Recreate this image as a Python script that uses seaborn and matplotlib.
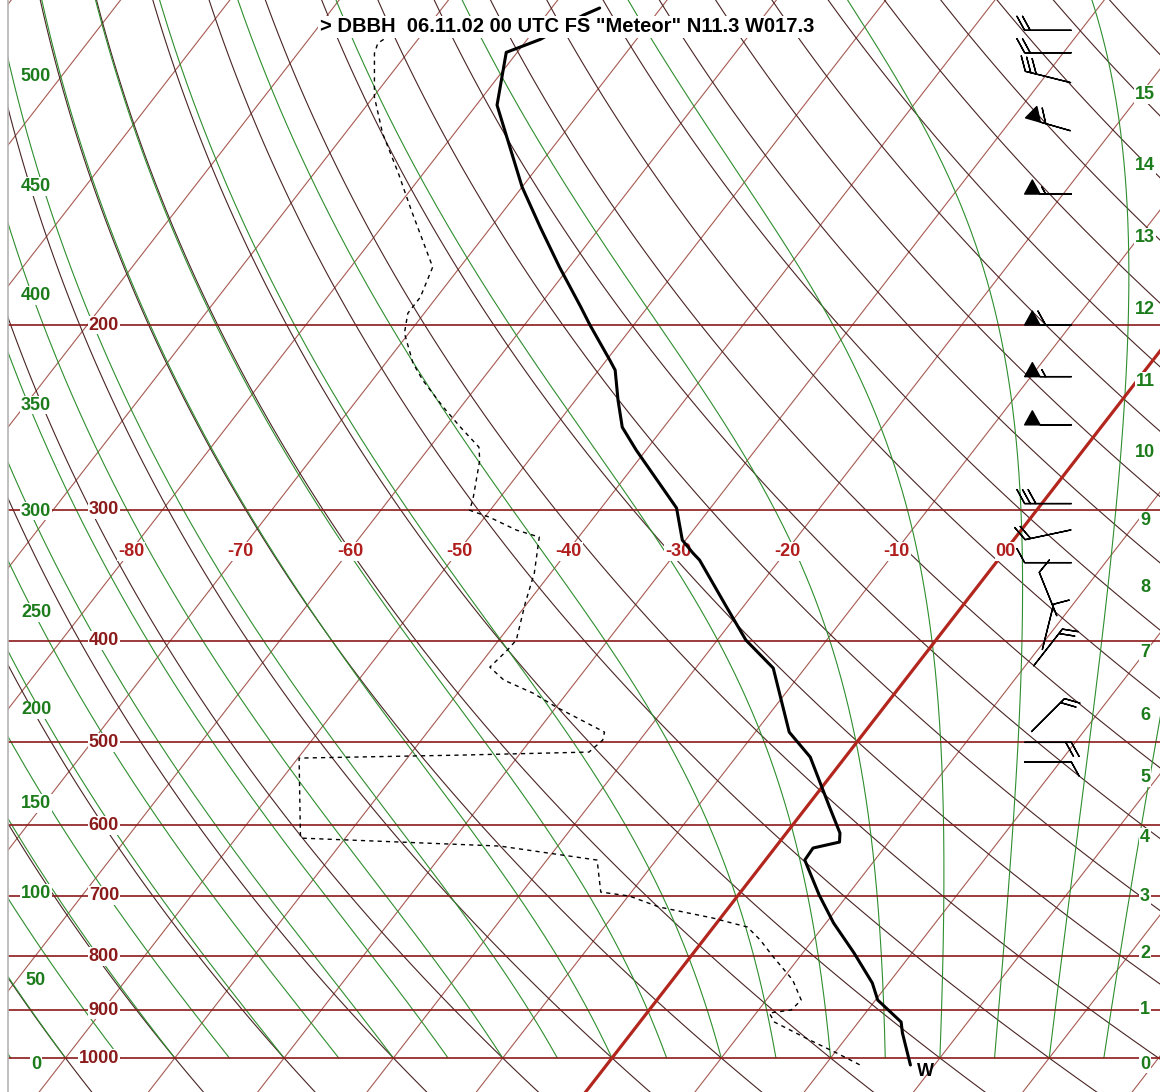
import numpy as np
import pandas as pd
import matplotlib
matplotlib.use('Agg')
import matplotlib.pyplot as plt
import matplotlib.transforms as mtransforms
import seaborn as sns

# sounding DBBH 06.11.02 00 UTC
temp_p = [99.7, 101.3, 106.8, 109.9, 123.4, 147.7, 161.3, 176.1, 192.3, 200.0, 216.0, 220.8,
          235.9, 250.3, 263.2, 298.9, 320.7, 330.0, 335.1, 371.5, 399.4, 424.8, 488.9, 516.5,
          576.3, 610.2, 622.4, 630.6, 647.5, 699.2, 743.5, 794.1, 848.2, 880.5, 924.0, 946.6, 1015.5]
temp_t = [-75.6, -76.6, -78.8, -81.0, -78.1, -70.0, -65.5, -60.9, -56.1, -54.0, -49.7, -48.5,
          -46.1, -43.8, -40.9, -33.1, -30.3, -28.4, -27.3, -21.5, -17.4, -12.9, -6.9, -3.2,
          2.1, 4.9, 5.5, 3.5, 3.6, 7.4, 10.7, 14.7, 18.5, 20.2, 23.9, 24.8, 27.8]

dew_p = [104.7, 107.7, 110.1, 121.2, 131.2, 143.3, 155.4, 176.1, 188.1, 194.9, 203.6, 217.4,
         225.7, 239.5, 250.3, 261.5, 269.1, 293.8, 300.3, 304.9, 313.7, 318.6, 344.8, 368.3,
         399.4, 408.3, 423.9, 436.1, 448.8, 462.7, 488.9, 497.5, 510.8, 514.2, 517.6, 617.0,
         622.4, 627.9, 647.5, 694.6, 700.7, 717.8, 735.4, 750.1, 771.8, 801.1, 842.6, 880.5,
         900.0, 905.9, 924.0, 961.2, 989.1, 1015.5]
dew_t = [-92.5, -93.4, -93.0, -89.9, -86.6, -82.3, -78.5, -72.5, -71.5, -71.5, -70.4, -67.5,
         -65.4, -61.6, -58.6, -55.5, -54.5, -52.3, -51.9, -49.6, -46.2, -43.6, -41.5, -40.2,
         -38.4, -38.5, -38.9, -36.7, -33.1, -30.0, -23.8, -23.4, -23.8, -35.3, -49.9, -44.1,
         -34.7, -25.3, -15.4, -12.8, -9.9, -6.4, -0.7, 3.1, 5.2, 7.6, 11.0, 13.2,
         13.0, 11.2, 12.3, 16.8, 20.2, 23.2]

wind_p = [104.7, 110.0, 116.0, 128.7, 150.0, 200.0, 224.0, 249.0, 296.0, 317.0, 337.0,
          361.0, 388.0, 406.0, 471.0, 500.0, 522.0]
wind_dir = [270, 270, 284, 286, 270, 270, 270, 270, 270, 258, 270, 338, 14, 38, 45, 90, 90]
wind_kt = [20, 20, 30, 60, 55, 60, 55, 50, 30, 20, 10, 10, 10, 20, 20, 20, 10]

isobars = [1000, 900, 800, 700, 600, 500, 400, 300, 200]
isotherm_labels = [-80, -70, -60, -50, -40, -30, -20, -10, 0]
flight_levels = [0, 50, 100, 150, 200, 250, 300, 350, 400, 450, 500]
heights_km = [0, 1, 2, 3, 4, 5, 6, 7, 8, 9, 10, 11, 12, 13, 14, 15]

title = '> DBBH  06.11.02 00 UTC FS "Meteor" N11.3 W017.3'

SKEW = 32.3      # deg C shift per ln(1000/p)
PX_PER_C = 10.93  # horizontal pixels per deg C


def skew_x(t, p):
    return np.asarray(t, float) + SKEW * np.log(1000.0 / np.asarray(p, float))


def std_pressure(z):
    z = np.asarray(z, float)
    lower = 1013.25 * (1 - 2.25577e-5 * np.minimum(z, 11000)) ** 5.25588
    return np.where(z <= 11000, lower, 226.32 * np.exp(-(z - 11000) / 6341.62))


def moist_adiabat(t0, plev):
    def dtdp(T, p):
        es = 6.112 * np.exp(17.67 * (T - 273.15) / (T - 29.65))
        rs = 0.622 * es / (p - es)
        return (287.04 * T + 2.501e6 * rs) / (p * (1005.7 + 2.501e6 ** 2 * rs * 0.622 / (287.04 * T ** 2)))
    T = t0 + 273.15
    out = [T]
    for p0, p1 in zip(plev[:-1], plev[1:]):
        dp = p1 - p0
        k1 = dtdp(T, p0)
        k2 = dtdp(T + 0.5 * dp * k1, p0 + 0.5 * dp)
        T = T + dp * k2
        out.append(T)
    return np.array(out) - 273.15


def px_to_x(px):
    return (px - 612) / PX_PER_C


sns.set_style('white')
plt.rcParams['font.family'] = ['Liberation Sans', 'DejaVu Sans']

fig = plt.figure(figsize=(11.6, 10.92), dpi=100)
ax = fig.add_axes([8 / 1160, 0, 1152 / 1160, 1])
ax.set_yscale('log')
ax.set_xlim(px_to_x(8), px_to_x(1160))
ax.set_ylim(1077.5, 97.96)
ax.set_xticks([])
ax.set_yticks([])
ax.minorticks_off()
for side in ['top', 'right', 'bottom']:
    ax.spines[side].set_visible(False)
ax.spines['left'].set_color('#b4b4b4')
ax.spines['left'].set_linewidth(1.2)

ISOBAR = '#8b1a1a'
ISOTHERM = '#a65a52'
DRY = '#4a2424'
MOIST = '#2e8e2e'
ZERO = '#b3261e'
GREEN_TXT = '#1c7c1c'

pfull = np.geomspace(1090, 95, 120)
for t in np.arange(-140, 60, 10):
    ax.plot(skew_x(t, pfull), pfull, color=ZERO if t == 0 else ISOTHERM,
            lw=2.3 if t == 0 else 0.8, zorder=1.6 if t == 0 else 1)

for th in np.arange(-60, 220, 10):
    tt = (th + 273.15) * (pfull / 1000.0) ** 0.2857 - 273.15
    ax.plot(skew_x(tt, pfull), pfull, color=DRY, lw=0.8, zorder=1.1)

pm = np.linspace(1000, 95, 400)
for tw in np.arange(-55, 50, 5):
    tt = moist_adiabat(tw, pm)
    ax.plot(skew_x(tt, pm), pm, color=MOIST, lw=0.8, zorder=1.2)

for p in isobars:
    ax.axhline(p, color=ISOBAR, lw=1.2, zorder=1.5)

lab_font = dict(fontsize=13, fontweight='bold')
box = dict(facecolor='white', edgecolor='none', pad=0.6)
left_tr = mtransforms.blended_transform_factory(ax.transAxes, ax.transData)
for p in isobars:
    ax.text((119 - 8) / 1152, p, str(p), transform=left_tr, ha='right', va='center',
            color=ISOBAR, bbox=box, zorder=3, **lab_font)

lab_p = 328.8
for t in isotherm_labels:
    txt = '00' if t == 0 else str(t)
    ax.text(skew_x(t, lab_p) + 0.1, lab_p, txt, ha='center', va='center',
            color='#b01e1e', bbox=box, zorder=3, **lab_font)

for fl in flight_levels:
    ax.text((36 - 8) / 1152, std_pressure(fl * 30.48), str(fl), transform=left_tr,
            ha='center', va='center', color=GREEN_TXT, bbox=box, zorder=3, **lab_font)

for km in heights_km:
    ax.text((1145 - 8) / 1152, std_pressure(km * 1000.0), str(km), transform=left_tr,
            ha='center', va='center', color=GREEN_TXT, bbox=box, zorder=3, **lab_font)

# sounding curves
temp_df = pd.DataFrame({'x': skew_x(temp_t, temp_p), 'p': temp_p})
dew_df = pd.DataFrame({'x': skew_x(dew_t, dew_p), 'p': dew_p})
sns.lineplot(data=temp_df, x='x', y='p', sort=False, estimator=None, color='black',
             lw=2.2, ax=ax, zorder=4)
sns.lineplot(data=dew_df, x='x', y='p', sort=False, estimator=None, color='black',
             lw=1.0, ax=ax, zorder=4, linestyle=(0, (3, 3)))
ax.set_xlabel('')
ax.set_ylabel('')

wd = np.deg2rad(wind_dir)
u = -np.array(wind_kt) * np.sin(wd)
v = -np.array(wind_kt) * np.cos(wd)
ax.barbs(np.full(len(wind_p), px_to_x(1048)), wind_p, u, v, length=8.2,
         pivot='middle', sizes=dict(height=0.3, spacing=0.12, width=0.33, emptybarb=0),
         color='black', lw=1.0, zorder=4)

ax.text(px_to_x(925), 1031, 'W', ha='center', va='center', fontsize=13,
        fontweight='bold', color='black', zorder=4)

fig.text(567 / 1160, 1 - 27 / 1092, title, ha='center', va='center', fontsize=14.5,
         fontweight='bold', color='black', zorder=10,
         bbox=dict(facecolor='white', edgecolor='none', pad=1))

fig.savefig('out.png', dpi=100)
